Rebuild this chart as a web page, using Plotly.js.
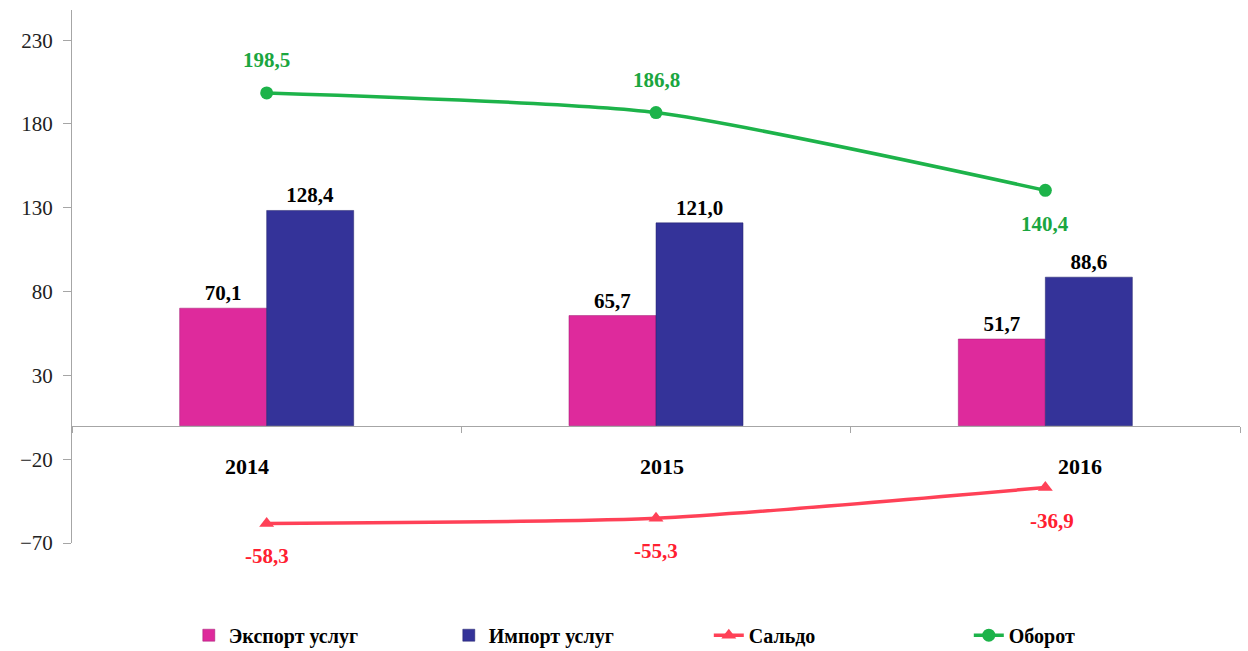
<!DOCTYPE html>
<html>
<head>
<meta charset="utf-8">
<script src="https://cdn.plot.ly/plotly-3.0.1.min.js"></script>
<style>
  html, body { margin: 0; padding: 0; background: #fff; }
  #chart { width: 1248px; height: 651px; }
</style>
</head>
<body>
<div id="chart"></div>
<script>
const years = ["2014", "2015", "2016"];
const exportServices = [70.1, 65.7, 51.7];
const importServices = [128.4, 121.0, 88.6];
const saldo = [-58.3, -55.3, -36.9];
const turnover = [198.5, 186.8, 140.4];
const seriesNames = ["Экспорт услуг", "Импорт услуг", "Сальдо", "Оборот"];

const yMin = -70;
const yMax = 248;
const FONT = "Liberation Serif";

function fmt(num) {
  return Number(num).toFixed(1).replace(".", ",");
}

const traces = [
  {
    type: "bar",
    name: "<b>" + seriesNames[0] + "</b>",
    x: years,
    y: exportServices,
    marker: { color: "#de2a9c", line: { color: "#a01d72", width: 0.5 } },
    text: exportServices.map(v => "<b>" + fmt(v) + "</b>"),
    textposition: "outside",
    textfont: { family: FONT, size: 21, color: "#000" },
    cliponaxis: false
  },
  {
    type: "bar",
    name: "<b>" + seriesNames[1] + "</b>",
    x: years,
    y: importServices,
    marker: { color: "#343399", line: { color: "#22226a", width: 0.5 } },
    text: importServices.map(v => "<b>" + fmt(v) + "</b>"),
    textposition: "outside",
    textfont: { family: FONT, size: 21, color: "#000" },
    cliponaxis: false
  },
  {
    type: "scatter",
    mode: "lines+markers",
    name: "<b>" + seriesNames[2] + "</b>",
    x: years,
    y: saldo,
    line: { color: "#ff4157", width: 3.5, shape: "spline", smoothing: 0.6 },
    marker: { symbol: "triangle-up", size: 13, color: "#ff4157" },
    cliponaxis: false
  },
  {
    type: "scatter",
    mode: "lines+markers",
    name: "<b>" + seriesNames[3] + "</b>",
    x: years,
    y: turnover,
    line: { color: "#1db34a", width: 3.5, shape: "spline", smoothing: 0.6 },
    marker: { symbol: "circle", size: 13, color: "#1db34a" },
    cliponaxis: false
  }
];

// label offsets (px) from their points
const turnoverShift = [33, 33, -34];
const yearShift = [-20, 6, 35];

// annotations on a category axis take the index, not the name
const annotations = [
  ...turnover.map((v, i) => ({
    x: i, y: v, text: "<b>" + fmt(v) + "</b>",
    showarrow: false, yshift: turnoverShift[i],
    font: { family: FONT, size: 21, color: "#1ba640" }
  })),
  ...saldo.map((v, i) => ({
    x: i, y: v, text: "<b>" + fmt(v) + "</b>",
    showarrow: false, yshift: -33, xshift: i === 2 ? 7 : 0,
    font: { family: FONT, size: 21, color: "#ff2030" }
  })),
  ...years.map((yr, i) => ({
    x: i, y: 0, text: "<b>" + yr + "</b>",
    showarrow: false, yshift: -41, xshift: yearShift[i],
    font: { family: FONT, size: 22, color: "#000" }
  }))
];

const layout = {
  width: 1248,
  height: 651,
  font: { family: FONT, size: 20, color: "#000" },
  paper_bgcolor: "#fff",
  plot_bgcolor: "#fff",
  margin: { l: 72, r: 8, t: 10, b: 108, autoexpand: false },
  barmode: "group",
  bargap: 0.553,
  bargroupgap: 0,
  showlegend: true,
  legend: {
    orientation: "h",
    x: 0.1,
    xanchor: "left",
    y: -0.173,
    yanchor: "middle",
    font: { family: FONT, size: 20, color: "#000" },
    traceorder: "normal",
    itemwidth: 30,
    entrywidth: 215
  },
  xaxis: {
    type: "category",
    range: [-0.5, 2.5],
    anchor: "free",
    position: (0 - yMin) / (yMax - yMin),
    showline: true,
    linecolor: "#a6a6a6",
    linewidth: 1,
    tickson: "boundaries",
    ticks: "outside",
    ticklen: 6,
    tickcolor: "#a6a6a6",
    showticklabels: false,
    showgrid: false,
    zeroline: false
  },
  yaxis: {
    range: [yMin, yMax],
    tick0: -70,
    dtick: 50,
    showline: true,
    linecolor: "#a6a6a6",
    linewidth: 1,
    ticks: "outside",
    ticklen: 8,
    tickcolor: "#a6a6a6",
    showgrid: false,
    zeroline: false,
    tickfont: { family: FONT, size: 21, color: "#222" },
    ticklabelstandoff: 6
  },
  annotations: annotations
};

Plotly.newPlot("chart", traces, layout, { displayModeBar: false });
</script>
</body>
</html>
